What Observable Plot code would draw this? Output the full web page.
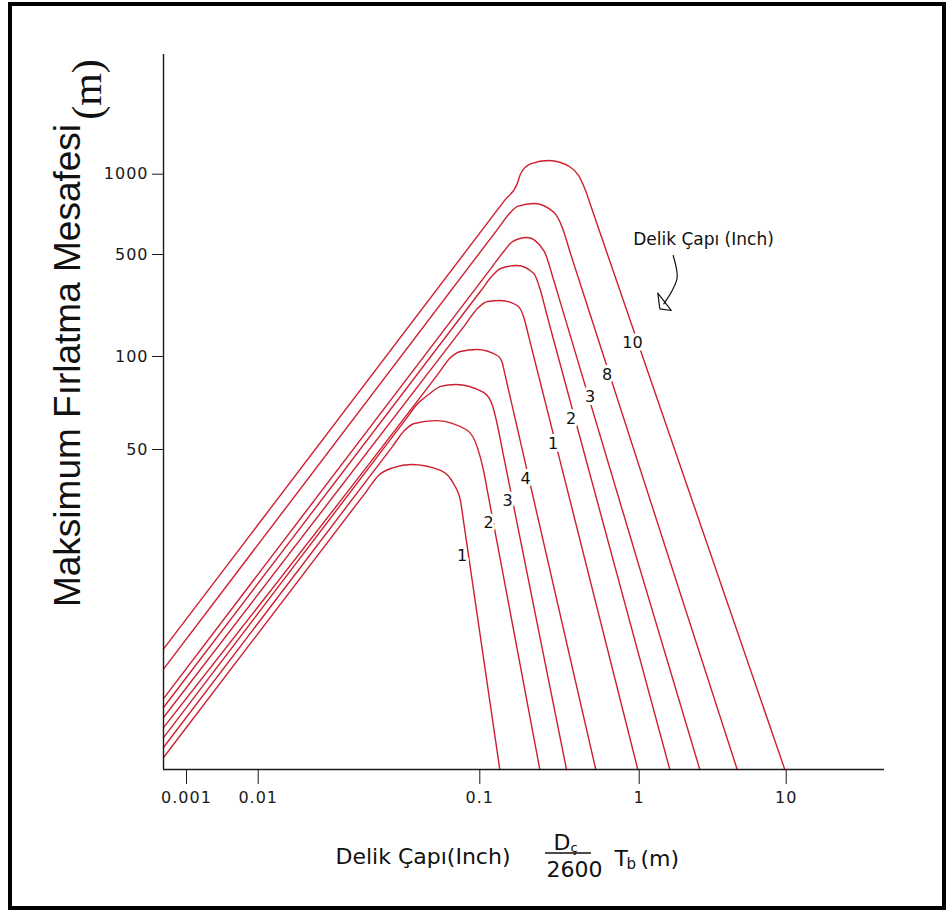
<!DOCTYPE html>
<html><head><meta charset="utf-8">
<script src="https://cdn.jsdelivr.net/npm/d3@7"></script>
<script src="https://cdn.jsdelivr.net/npm/@observablehq/plot@0.6"></script>
<style>
html,body{margin:0;padding:0;background:#fff;}
#wrap{position:relative;width:946px;height:911px;overflow:hidden;background:#fff;}
#border{position:absolute;left:8px;top:2px;width:938px;height:908px;box-sizing:border-box;border:4px solid #000;pointer-events:none;}
#chart svg{display:block;}
g[aria-label$="tick label"] text{letter-spacing:1px;}
</style></head><body>
<div id="wrap"><div id="chart"></div><div id="border"></div></div>
<script>
// Axis ticks
const xTicks = [0.001, 0.01, 0.1, 1, 10];
const yTicks = [50, 100, 500, 1000];

// Curves (x = D/2600 · Tb, y = max throw distance in m)
const x_1a = [0.0005, 0.0308, 0.0349, 0.0408, 0.0492, 0.0665, 0.0761, 0.0818, 0.0844, 0.1335];
const y_1a = [5.45, 37.0, 41.5, 43.9, 44.9, 43.0, 39.1, 34.6, 29.9, 5];
const x_2a = [0.0005, 0.0404, 0.0457, 0.0507, 0.0631, 0.0880, 0.0976, 0.1055, 0.1115, 0.238];
const y_2a = [5.86, 51.2, 57.6, 60.7, 62.0, 57.6, 50.7, 43.0, 37.2, 5];
const x_3a = [0.0005, 0.0463, 0.0525, 0.0587, 0.0665, 0.0777, 0.1055, 0.1201, 0.1291, 0.1368, 0.350];
const y_3a = [6.29, 62.6, 70.4, 75.3, 80.0, 81.2, 76.5, 69.4, 59.8, 51.5, 5];
const x_4a = [0.0005, 0.0651, 0.0738, 0.0818, 0.0971, 0.1286, 0.1382, 0.1429, 0.1536, 0.534];
const y_4a = [6.76, 88.2, 99.3, 108.2, 111.7, 101.6, 95.6, 88.8, 75.5, 5];
const x_1b = [0.0005, 0.0862, 0.0976, 0.1118, 0.1349, 0.1717, 0.1888, 0.2021, 0.2172, 0.980];
const y_1b = [7.27, 166.2, 213.3, 238.1, 241.9, 223.6, 185.9, 139.3, 101.7, 5];
const x_2b = [0.0005, 0.101, 0.1201, 0.1349, 0.1712, 0.2182, 0.2403, 0.2621, 0.2858, 1.615];
const y_2b = [7.81, 279.8, 359, 400.9, 420.3, 370.5, 283.4, 197.1, 138.8, 5];
const x_3b = [0.0005, 0.1201, 0.1429, 0.1604, 0.1978, 0.252, 0.2912, 0.3209, 2.584];
const y_3b = [8.33, 415.0, 517.5, 559.3, 579, 517.5, 331.7, 232.9, 5];
const x_8b = [0.0005, 0.1291, 0.1536, 0.1724, 0.2188, 0.2912, 0.3288, 0.3707, 0.4101, 4.642];
const y_8b = [10.3, 621.5, 712, 757, 777, 720, 633, 504, 360.7, 5];
const x_10b = [0.0005, 0.1443, 0.1717, 0.180, 0.208, 0.2717, 0.3707, 0.4161, 0.4604, 0.5093, 9.783];
const y_10b = [11.9, 803, 920.5, 1002, 1100, 1134, 1066, 989, 868.8, 729, 5];

// Curve labels (hole diameter, inch)
const labelText = ["1", "2", "3", "4", "1", "2", "3", "8", "10"];
const labelX = [0.0831, 0.1134, 0.1492, 0.1935, 0.2879, 0.3734, 0.4913, 0.628, 0.908];
const labelY = [23.3, 29.4, 34.6, 40.6, 52.3, 63.0, 73.9, 87.5, 124.7];

// Annotation
const noteText = "Delik Çapı (Inch)";
const noteX = [2.737], noteY = [569];
const arrowX = [1.703, 1.813, 1.677, 1.470], arrowY = [492.1, 349.4, 283.4, 229.7];
const headX = [1.338, 1.381, 1.651, 1.338], headY = [271.5, 212.3, 206.7, 271.5];

const curveSets = [[x_1a,y_1a],[x_2a,y_2a],[x_3a,y_3a],[x_4a,y_4a],[x_1b,y_1b],[x_2b,y_2b],[x_3b,y_3b],[x_8b,y_8b],[x_10b,y_10b]];
const rows = [];
curveSets.forEach(([xs, ys], k) => xs.forEach((x, i) => rows.push({curve: k, x, y: ys[i]})));
const labels = labelText.map((t, i) => ({t, x: labelX[i], y: labelY[i]}));
const arrow = arrowX.map((x, i) => ({x, y: arrowY[i]}));
const head = headX.map((x, i) => ({x, y: headY[i]}));

const FONT = "DejaVu Sans";
const ML = 163, MT = 54;

const svg = Plot.plot({
  width: 946, height: 911,
  marginLeft: ML, marginRight: 62, marginTop: MT, marginBottom: 142,
  style: {fontFamily: FONT, color: "#1a1a1a", background: "white"},
  x: {type: "log", domain: [0.0005, 0.001, 0.01, 0.1, 1, 10, 40], range: [163, 186, 257.7, 479.3, 638.7, 785.7, 884]},
  y: {type: "log", domain: [5, 50, 100, 500, 1000, 3000], range: [769, 449, 356, 254, 173.7, 54]},
  marks: [
    Plot.line(rows, {x: "x", y: "y", z: "curve", stroke: "#cf1f2f", strokeWidth: 1.4, curve: "monotone-x"}),
    Plot.ruleX([0.0005], {stroke: "#1a1a1a", strokeWidth: 1.4}),
    Plot.ruleY([5], {stroke: "#1a1a1a", strokeWidth: 1.4}),
    Plot.axisY(yTicks, {anchor: "left", tickSize: 11, tickPadding: 4, fontSize: 16, tickFormat: d => String(d), label: null}),
    Plot.axisX(xTicks, {anchor: "bottom", tickSize: 15, tickPadding: 7, fontSize: 16, tickFormat: d => String(d), label: null}),
    Plot.text(labels, {x: "x", y: "y", text: "t", fontSize: 16, fill: "#111", stroke: "white", strokeWidth: 6, paintOrder: "stroke"}),
    Plot.text([noteText], {x: noteX, y: noteY, text: d => d, fontSize: 17, fill: "#111"}),
    Plot.line(arrow, {x: "x", y: "y", stroke: "#111", strokeWidth: 1.2, curve: "catmull-rom"}),
    Plot.line(head, {x: "x", y: "y", stroke: "#111", strokeWidth: 1.2}),
    // Titles
    Plot.text(["Maksimum Fırlatma Mesafesi"], {frameAnchor: "top-left", dx: 79 - ML, dy: 365 - MT, rotate: -90, text: d => d, textAnchor: "middle", lineAnchor: "bottom", fontSize: 37, fontFamily: "Liberation Sans", fill: "#111"}),
    Plot.text(["(m)"], {frameAnchor: "top-left", dx: 100 - ML, dy: 89 - MT, rotate: -90, text: d => d, textAnchor: "middle", lineAnchor: "bottom", fontSize: 42, fontFamily: "Liberation Serif", fill: "#111"}),
    Plot.text(["Delik Çapı(Inch)"], {frameAnchor: "top-left", dx: 335 - ML, dy: 863 - MT, text: d => d, textAnchor: "start", lineAnchor: "bottom", fontSize: 22, fill: "#111"}),
    Plot.text(["D"], {frameAnchor: "top-left", dx: 553 - ML, dy: 849 - MT, text: d => d, textAnchor: "start", lineAnchor: "bottom", fontSize: 22, fill: "#111"}),
    Plot.text(["ç"], {frameAnchor: "top-left", dx: 570 - ML, dy: 851 - MT, text: d => d, textAnchor: "start", lineAnchor: "bottom", fontSize: 13, fill: "#111"}),
    Plot.text(["2600"], {frameAnchor: "top-left", dx: 546 - ML, dy: 876 - MT, text: d => d, textAnchor: "start", lineAnchor: "bottom", fontSize: 22, fill: "#111"}),
    Plot.text(["T"], {frameAnchor: "top-left", dx: 614 - ML, dy: 865 - MT, text: d => d, textAnchor: "start", lineAnchor: "bottom", fontSize: 22, fill: "#111"}),
    Plot.text(["b"], {frameAnchor: "top-left", dx: 626 - ML, dy: 868 - MT, text: d => d, textAnchor: "start", lineAnchor: "bottom", fontSize: 15, fill: "#111"}),
    Plot.text(["(m)"], {frameAnchor: "top-left", dx: 640 - ML, dy: 865 - MT, text: d => d, textAnchor: "start", lineAnchor: "bottom", fontSize: 22, fill: "#111"})
  ]
});
// fraction bar of the x-axis title
d3.select(svg).append("line").attr("x1", 545).attr("x2", 591).attr("y1", 853).attr("y2", 853).attr("stroke", "#111").attr("stroke-width", 1.5);
document.getElementById("chart").appendChild(svg);
</script>
</body></html>
